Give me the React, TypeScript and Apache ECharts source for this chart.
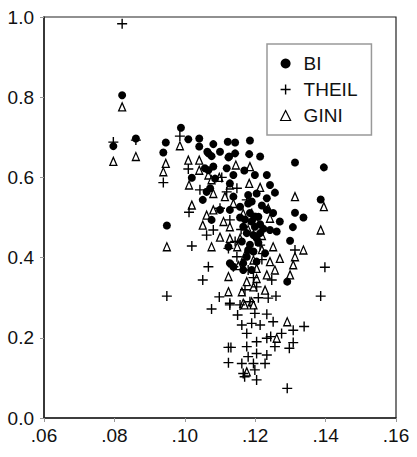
import React, { useEffect, useRef } from "react";
import * as echarts from "echarts";

const xTicks = [0.06, 0.08, 0.1, 0.12, 0.14, 0.16];
const yTicks = [0, 0.2, 0.4, 0.6, 0.8, 1.0];

const biData: number[][] = [
  [0.0797, 0.678], [0.0822, 0.805], [0.0861, 0.697], [0.0946, 0.687], [0.0939, 0.662],
  [0.0989, 0.724], [0.101, 0.695], [0.1041, 0.697], [0.1041, 0.677], [0.1064, 0.664],
  [0.1081, 0.683], [0.11, 0.664], [0.1122, 0.689], [0.1143, 0.687], [0.1143, 0.66],
  [0.1126, 0.652], [0.1185, 0.692], [0.1183, 0.658], [0.1214, 0.652], [0.1313, 0.637],
  [0.1395, 0.625], [0.1067, 0.66], [0.1076, 0.653], [0.1124, 0.65], [0.102, 0.599],
  [0.1057, 0.623], [0.1081, 0.627], [0.1119, 0.623], [0.1138, 0.606], [0.1169, 0.617],
  [0.1199, 0.606], [0.1233, 0.606], [0.1242, 0.581], [0.1256, 0.562], [0.1233, 0.548],
  [0.1204, 0.56], [0.118, 0.556], [0.118, 0.535], [0.1157, 0.527], [0.1128, 0.519],
  [0.11, 0.519], [0.1076, 0.494], [0.1051, 0.544], [0.1062, 0.564], [0.1072, 0.573],
  [0.1067, 0.618], [0.1086, 0.597], [0.1128, 0.585], [0.1138, 0.552], [0.1185, 0.511],
  [0.1199, 0.502], [0.1209, 0.502], [0.1233, 0.519], [0.1251, 0.511], [0.127, 0.49],
  [0.1261, 0.465], [0.1242, 0.469], [0.1214, 0.461], [0.1166, 0.477], [0.1199, 0.477],
  [0.1176, 0.461], [0.1204, 0.448], [0.1313, 0.512], [0.1337, 0.5], [0.1307, 0.476],
  [0.1299, 0.442], [0.1291, 0.34], [0.1386, 0.545], [0.0949, 0.48], [0.1124, 0.427],
  [0.1128, 0.386], [0.1138, 0.377], [0.1166, 0.386], [0.118, 0.419], [0.1195, 0.415],
  [0.1166, 0.369], [0.119, 0.369], [0.1204, 0.39], [0.1228, 0.411], [0.1176, 0.402],
  [0.1195, 0.456], [0.1171, 0.495], [0.119, 0.49], [0.1214, 0.483], [0.1157, 0.5],
  [0.1219, 0.53], [0.119, 0.54], [0.1223, 0.472], [0.1185, 0.432], [0.1209, 0.437],
  [0.1162, 0.44],
];

const theilData: number[][] = [
  [0.0822, 0.983], [0.0797, 0.688], [0.0861, 0.693], [0.0986, 0.703], [0.0939, 0.587],
  [0.1043, 0.569], [0.1012, 0.513], [0.102, 0.429], [0.0949, 0.304], [0.1081, 0.469],
  [0.1062, 0.456], [0.1067, 0.377], [0.1051, 0.344], [0.11, 0.523], [0.1119, 0.564],
  [0.1148, 0.573], [0.1128, 0.494], [0.1124, 0.423], [0.1138, 0.377], [0.1176, 0.544],
  [0.1195, 0.461], [0.1214, 0.431], [0.1313, 0.419], [0.1398, 0.376], [0.1386, 0.304],
  [0.1259, 0.304], [0.1237, 0.299], [0.1247, 0.344], [0.1128, 0.286], [0.1098, 0.302],
  [0.1076, 0.272], [0.1204, 0.327], [0.118, 0.369], [0.1148, 0.402], [0.1157, 0.282],
  [0.1128, 0.282], [0.115, 0.257], [0.1162, 0.232], [0.1176, 0.211], [0.119, 0.236],
  [0.1214, 0.232], [0.1233, 0.259], [0.1251, 0.24], [0.1199, 0.261], [0.1124, 0.176],
  [0.1124, 0.138], [0.1176, 0.178], [0.118, 0.153], [0.1204, 0.19], [0.1204, 0.161],
  [0.1233, 0.199], [0.1233, 0.157], [0.1228, 0.136], [0.1162, 0.136], [0.1166, 0.111],
  [0.1195, 0.136], [0.1199, 0.12], [0.117, 0.103], [0.1204, 0.095], [0.1256, 0.178],
  [0.1275, 0.211], [0.1308, 0.219], [0.1339, 0.228], [0.1297, 0.174], [0.1308, 0.188],
  [0.1291, 0.074], [0.1244, 0.203], [0.1131, 0.176], [0.1185, 0.29], [0.1209, 0.3],
  [0.1171, 0.32], [0.1195, 0.35], [0.1219, 0.395], [0.116, 0.47], [0.119, 0.51],
  [0.1105, 0.6], [0.1143, 0.44], [0.101, 0.621],
];

const giniData: number[][] = [
  [0.0822, 0.776], [0.0797, 0.64], [0.0861, 0.652], [0.0986, 0.679], [0.0946, 0.635],
  [0.0939, 0.614], [0.101, 0.643], [0.1041, 0.643], [0.1012, 0.581], [0.1041, 0.618],
  [0.1067, 0.606], [0.1076, 0.594], [0.1098, 0.6], [0.1128, 0.581], [0.1145, 0.631],
  [0.1185, 0.627], [0.1183, 0.585], [0.1214, 0.575], [0.102, 0.531], [0.1062, 0.506],
  [0.1081, 0.519], [0.1051, 0.481], [0.1081, 0.56], [0.1114, 0.552], [0.1138, 0.535],
  [0.1128, 0.477], [0.1157, 0.448], [0.119, 0.494], [0.1204, 0.49], [0.1128, 0.448],
  [0.11, 0.451], [0.1076, 0.427], [0.1149, 0.427], [0.1237, 0.523], [0.1242, 0.498],
  [0.1251, 0.427], [0.127, 0.398], [0.1242, 0.39], [0.1256, 0.369], [0.1233, 0.357],
  [0.1313, 0.552], [0.1395, 0.527], [0.1386, 0.469], [0.1337, 0.419], [0.1313, 0.402],
  [0.1308, 0.382], [0.1299, 0.357], [0.0949, 0.427], [0.1124, 0.353], [0.1124, 0.315],
  [0.1176, 0.34], [0.1204, 0.373], [0.1204, 0.348], [0.1195, 0.327], [0.1162, 0.315],
  [0.1228, 0.319], [0.1166, 0.286], [0.119, 0.29], [0.1195, 0.394], [0.1171, 0.406],
  [0.1291, 0.24], [0.117, 0.282], [0.1195, 0.282], [0.1261, 0.199], [0.1176, 0.115],
  [0.1166, 0.51], [0.1219, 0.455], [0.118, 0.47], [0.1152, 0.38], [0.1219, 0.42],
  [0.111, 0.49],
];

const PLUS = "path://M0,4.3 H4.3 V0 H5.7 V4.3 H10 V5.7 H5.7 V10 H4.3 V5.7 H0 Z";
const FONT = 'Arial, "Liberation Sans", sans-serif';

export default function App() {
  const ref = useRef<HTMLDivElement>(null);
  useEffect(() => {
    if (!ref.current) return;
    const chart = echarts.init(ref.current, undefined, { renderer: "svg" });
    chart.setOption({
      animation: false,
      backgroundColor: "#fff",
      grid: {
        left: 44, right: 21, top: 17, bottom: 39,
        show: true, borderColor: "#222", borderWidth: 1.2,
      },
      legend: {
        orient: "vertical",
        left: 267, top: 44,
        padding: [10, 14, 10, 13],
        itemGap: 7,
        itemWidth: 10, itemHeight: 10,
        borderColor: "#999", borderWidth: 1.5,
        backgroundColor: "#fff",
        textStyle: { fontSize: 19, lineHeight: 19, color: "#111", fontFamily: FONT, padding: [0, 0, 0, 8] },
        data: [
          { name: "BI", icon: "circle", itemStyle: { color: "#000" } },
          { name: "THEIL", icon: PLUS, itemStyle: { color: "#000" } },
          { name: "GINI", icon: "triangle", itemStyle: { color: "#fff", borderColor: "#000", borderWidth: 1.2 } },
        ],
      },
      xAxis: {
        type: "value",
        min: xTicks[0], max: xTicks[xTicks.length - 1], interval: 0.02,
        splitLine: { show: false },
        axisLine: { show: true, lineStyle: { color: "#222", width: 1.5 } },
        axisTick: { show: true, inside: false, length: 4, lineStyle: { color: "#999" } },
        axisLabel: {
          margin: 8, fontSize: 19, color: "#111", fontFamily: FONT,
          formatter: (v: number) => v.toFixed(2).replace(/^0/, ""),
        },
      },
      yAxis: {
        type: "value",
        min: yTicks[0], max: yTicks[yTicks.length - 1], interval: 0.2,
        splitLine: { show: false },
        axisLine: { show: true, lineStyle: { color: "#222", width: 1.5 } },
        axisTick: { show: true, inside: false, length: 4, lineStyle: { color: "#999" } },
        axisLabel: {
          margin: 10, fontSize: 19, color: "#111", fontFamily: FONT,
          formatter: (v: number) => v.toFixed(1),
        },
      },
      series: [
        {
          name: "GINI", type: "scatter", data: giniData, z: 2,
          symbol: "triangle", symbolSize: [7, 8],
          itemStyle: { color: "#fff", borderColor: "#000", borderWidth: 1.3, opacity: 1 },
        },
        {
          name: "THEIL", type: "scatter", data: theilData, z: 3,
          symbol: PLUS, symbolSize: 10,
          itemStyle: { color: "#000", opacity: 1 },
        },
        {
          name: "BI", type: "scatter", data: biData, z: 4,
          symbol: "circle", symbolSize: 8,
          itemStyle: { color: "#000", opacity: 1 },
        },
      ],
    });
    return () => chart.dispose();
  }, []);
  return <div ref={ref} style={{ width: 417, height: 457, position: "absolute", left: 0, top: 0 }} />;
}
